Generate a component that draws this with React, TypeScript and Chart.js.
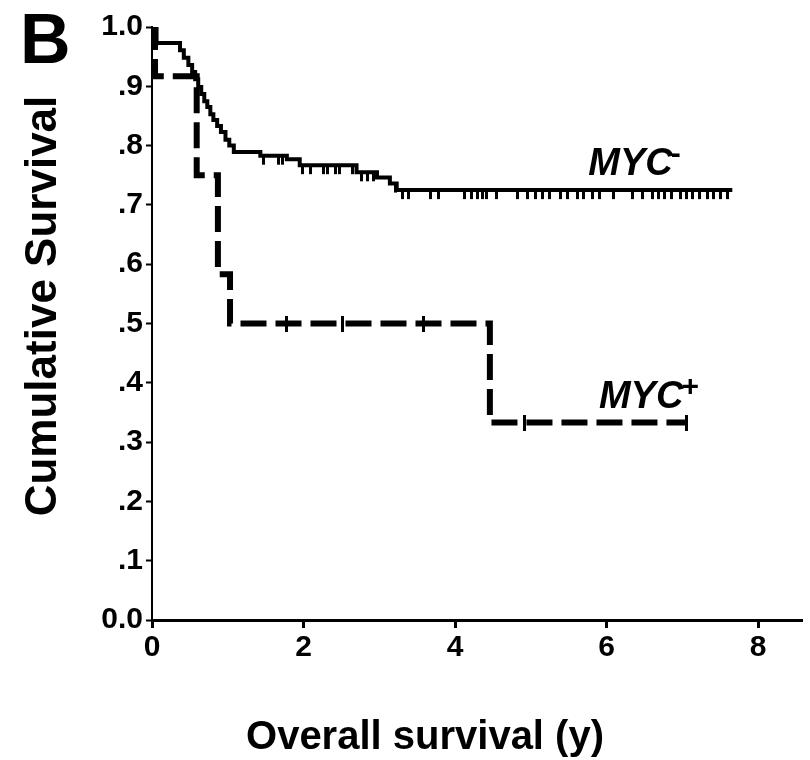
import React, { useEffect, useRef } from "react";
import { Chart, registerables } from "chart.js";

Chart.register(...registerables);

// Kaplan–Meier step data: [time (years), cumulative survival after the step]
const mycNegTimes = [0, 0.06, 0.37, 0.42, 0.48, 0.53, 0.57, 0.61, 0.65, 0.69, 0.73, 0.77, 0.81, 0.86, 0.91, 0.97, 1.02, 1.08, 1.43, 1.78, 1.95, 2.7, 2.97, 3.14, 3.23, 7.66];
const mycNegSurv = [1.0, 0.973, 0.961, 0.948, 0.936, 0.924, 0.912, 0.899, 0.887, 0.875, 0.865, 0.853, 0.843, 0.833, 0.823, 0.81, 0.8, 0.789, 0.783, 0.777, 0.767, 0.755, 0.746, 0.736, 0.725, 0.725];

const mycPosTimes = [0, 0.04, 0.59, 0.87, 1.03, 4.46, 7.06];
const mycPosSurv = [1.0, 0.917, 0.75, 0.583, 0.5, 0.333, 0.333];

// censored observations
const mycNegCensorTimes = [0.02, 1.47, 1.67, 1.72, 1.98, 2.09, 2.26, 2.32, 2.42, 2.48, 2.65, 2.77, 2.85, 2.92, 3.21, 3.3, 3.38, 3.67, 3.78, 4.13, 4.22, 4.29, 4.36, 4.42, 4.55, 4.83, 4.96, 5.06, 5.16, 5.25, 5.39, 5.48, 5.61, 5.69, 5.81, 5.91, 6.09, 6.34, 6.48, 6.6, 6.68, 6.77, 6.86, 6.97, 7.06, 7.14, 7.23, 7.33, 7.41, 7.5, 7.59];
const mycPosCensorTimes = [1.78, 2.52, 3.58, 4.92, 7.05];

const xTickValues = [0, 2, 4, 6, 8];
const yTickValues = [0, 0.1, 0.2, 0.3, 0.4, 0.5, 0.6, 0.7, 0.8, 0.9, 1.0];
const yTickLabels = ["0.0", ".1", ".2", ".3", ".4", ".5", ".6", ".7", ".8", ".9", "1.0"];

const panelLabel = "B";
const yTitle = "Cumulative Survival";
const xTitle = "Overall survival (y)";
const seriesLabels = [
  { name: "MYC", sup: "-", x: 5.76, y: 0.725 },
  { name: "MYC", sup: "+", x: 5.9, y: 0.333 },
];

const FONT = "'Liberation Sans', Arial, Helvetica, sans-serif";

function survivalAt(times: number[], surv: number[], t: number) {
  let s = surv[0];
  for (let i = 0; i < times.length; i++) {
    if (times[i] <= t) s = surv[i];
  }
  return s;
}

export default function App() {
  const ref = useRef<HTMLCanvasElement | null>(null);

  useEffect(() => {
    if (!ref.current) return;

    const hang = document.createElement("canvas");
    hang.width = 3;
    hang.height = 20;
    const hctx = hang.getContext("2d")!;
    hctx.fillStyle = "#000";
    hctx.fillRect(0, 10, 3, 9);

    const cross = document.createElement("canvas");
    cross.width = 3;
    cross.height = 16;
    const cctx = cross.getContext("2d")!;
    cctx.fillStyle = "#000";
    cctx.fillRect(0, 0, 3, 16);

    const textPlugin = {
      id: "texts",
      afterDraw(chart: any) {
        const ctx = chart.ctx;
        const xs = chart.scales.x;
        const ys = chart.scales.y;
        ctx.save();
        ctx.fillStyle = "#000";
        ctx.font = `bold 70px ${FONT}`;
        ctx.textAlign = "left";
        ctx.textBaseline = "alphabetic";
        ctx.fillText(panelLabel, 20, 63);
        ctx.save();
        ctx.translate(44, 306);
        ctx.rotate(-Math.PI / 2);
        ctx.font = `bold 44px ${FONT}`;
        ctx.textAlign = "center";
        ctx.textBaseline = "middle";
        ctx.fillText(yTitle, 0, 0);
        ctx.restore();
        ctx.font = `bold 40px ${FONT}`;
        ctx.textAlign = "center";
        ctx.textBaseline = "middle";
        ctx.fillText(xTitle, 425, 738);
        seriesLabels.forEach((l) => {
          const px = xs.getPixelForValue(l.x);
          const py = ys.getPixelForValue(l.y) - 15;
          ctx.font = `italic bold 38px ${FONT}`;
          ctx.textAlign = "left";
          ctx.textBaseline = "alphabetic";
          ctx.fillText(l.name, px, py);
          const w = ctx.measureText(l.name).width;
          ctx.font = `bold 30px ${FONT}`;
          ctx.fillText(l.sup, px + w - 2, py - 12);
        });
        ctx.restore();
      },
    };

    const chart = new Chart(ref.current, {
      type: "line",
      data: {
        datasets: [
          {
            label: "MYC-",
            data: mycNegTimes.map((t, i) => ({ x: t, y: mycNegSurv[i] })),
            stepped: "before",
            borderColor: "#000",
            borderWidth: 4,
            pointRadius: 0,
            fill: false,
          },
          {
            label: "MYC+",
            data: mycPosTimes.map((t, i) => ({ x: t, y: mycPosSurv[i] })),
            stepped: "before",
            borderColor: "#000",
            borderWidth: 6,
            borderDash: [26, 9],
            borderCapStyle: "butt",
            pointRadius: 0,
            fill: false,
          },
          {
            label: "MYC- censored",
            data: mycNegCensorTimes.map((t) => ({ x: t, y: survivalAt(mycNegTimes, mycNegSurv, t) })),
            showLine: false,
            pointStyle: hang as any,
            pointRadius: 3,
          },
          {
            label: "MYC+ censored",
            data: mycPosCensorTimes.map((t) => ({ x: t, y: survivalAt(mycPosTimes, mycPosSurv, t) })),
            showLine: false,
            pointStyle: cross as any,
            pointRadius: 3,
          },
        ],
      },
      options: {
        responsive: false,
        animation: false,
        events: [],
        layout: { padding: { top: 27, right: 8, left: 0, bottom: 0 } },
        plugins: { legend: { display: false }, tooltip: { enabled: false } },
        scales: {
          x: {
            type: "linear",
            min: 0,
            max: 8.58,
            afterFit: (s: any) => {
              s.height = 140;
            },
            afterBuildTicks: (s: any) => {
              s.ticks = xTickValues.map((v) => ({ value: v }));
            },
            ticks: {
              color: "#000",
              font: { family: FONT, size: 30, weight: "bold" },
              padding: 2,
              maxRotation: 0,
              callback: (v: any) => String(v),
            },
            grid: { drawOnChartArea: false, color: "#000", tickLength: 8, tickWidth: 3 },
            border: { color: "#000", width: 3 },
          },
          y: {
            type: "linear",
            min: 0,
            max: 1,
            afterFit: (s: any) => {
              s.width = 152;
            },
            afterBuildTicks: (s: any) => {
              s.ticks = yTickValues.map((v) => ({ value: v }));
            },
            ticks: {
              color: "#000",
              font: { family: FONT, size: 30, weight: "bold" },
              padding: 3,
              callback: (_v: any, i: number) => yTickLabels[i],
            },
            grid: { drawOnChartArea: false, color: "#000", tickLength: 6, tickWidth: 2 },
            border: { color: "#000", width: 2 },
          },
        },
      },
      plugins: [textPlugin],
    } as any);

    return () => chart.destroy();
  }, []);

  return (
    <div style={{ position: "absolute", left: 0, top: 0, width: 810, height: 760, background: "#fff" }}>
      <canvas ref={ref} width={810} height={760} />
    </div>
  );
}
